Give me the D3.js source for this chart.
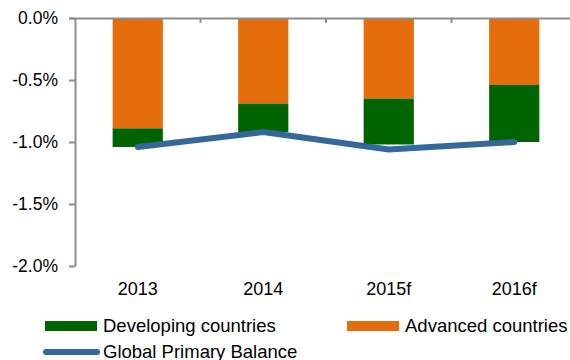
<!DOCTYPE html>
<html>
<head>
<meta charset="utf-8">
<script src="https://cdn.jsdelivr.net/npm/d3@7/dist/d3.min.js"></script>
<style>
  html, body { margin: 0; padding: 0; background: #fff; }
  svg { display: block; font-family: "Liberation Sans", Arial, sans-serif; }
</style>
</head>
<body>
<svg id="chart" width="570" height="360"></svg>
<script>
// Primary balance contributions, % of GDP
const years = ["2013", "2014", "2015f", "2016f"];
const advanced = [-0.89, -0.69, -0.65, -0.54];
const developing = [-0.15, -0.23, -0.37, -0.46];
const globalBalance = [-1.04, -0.92, -1.06, -1.00];
const yTicks = [0, -0.5, -1.0, -1.5, -2.0];

const colors = { developing: "#006400", advanced: "#e46c0a", global: "#34679a", axis: "#8c8c8c" };

const svg = d3.select("#chart");

const x = d3.scaleBand().domain(years).range([75, 577]).padding(0);
const y = d3.scaleLinear().domain([-2, 0]).range([266, 18]);
const barW = x.bandwidth() * 0.4;
const cx = d => x(d) + x.bandwidth() / 2;

const rows = years.map((yr, i) => ({
  year: yr,
  adv: advanced[i],
  dev: developing[i],
  glob: globalBalance[i]
}));

// Stacked bars: advanced from zero, developing stacked underneath
const bars = svg.append("g");
bars.selectAll("rect.adv").data(rows).join("rect")
  .attr("class", "adv")
  .attr("x", d => cx(d.year) - barW / 2)
  .attr("width", barW)
  .attr("y", y(0))
  .attr("height", d => y(d.adv) - y(0))
  .attr("fill", colors.advanced);

bars.selectAll("rect.dev").data(rows).join("rect")
  .attr("class", "dev")
  .attr("x", d => cx(d.year) - barW / 2)
  .attr("width", barW)
  .attr("y", d => y(d.adv))
  .attr("height", d => y(d.adv + d.dev) - y(d.adv))
  .attr("fill", colors.developing);

// Y axis
const yAxis = svg.append("g")
  .attr("transform", "translate(75,0)")
  .call(d3.axisLeft(y).tickValues(yTicks).tickSize(6).tickSizeOuter(0)
    .tickFormat(v => v.toFixed(1) + "%"));
yAxis.select(".domain").attr("stroke", colors.axis).attr("stroke-width", 2);
yAxis.selectAll(".tick line").attr("stroke", colors.axis).attr("stroke-width", 2);
yAxis.selectAll(".tick text")
  .attr("x", -17)
  .attr("fill", "#000")
  .style("font-size", "17.5px")
  .style("font-family", "'Liberation Sans', Arial, sans-serif");

// Category axis sits at zero (top); labels are below the plot
const xAxis = svg.append("g")
  .attr("transform", `translate(0,${y(0)})`)
  .call(d3.axisBottom(x).tickValues([]).tickSizeOuter(0));
xAxis.select(".domain").attr("stroke", colors.axis).attr("stroke-width", 2)
  .attr("d", `M69,0.5H577`);
xAxis.selectAll(".sep").data(years.slice(1)).join("line")
  .attr("class", "sep")
  .attr("x1", d => x(d)).attr("x2", d => x(d))
  .attr("y1", 0).attr("y2", 5)
  .attr("stroke", colors.axis).attr("stroke-width", 2);

svg.append("g").selectAll("text").data(years).join("text")
  .attr("x", d => cx(d))
  .attr("y", 295)
  .attr("text-anchor", "middle")
  .style("font-size", "18px")
  .text(d => d);

// Global primary balance line
const line = d3.line().x(d => cx(d.year)).y(d => y(d.glob));
svg.append("path")
  .datum(rows)
  .attr("d", line)
  .attr("fill", "none")
  .attr("stroke", colors.global)
  .attr("stroke-width", 6)
  .attr("stroke-linecap", "round")
  .attr("stroke-linejoin", "round");

// Legend
const legend = svg.append("g").style("font-size", "18.5px");
const legendItems = [
  { label: "Developing countries", color: colors.developing, type: "rect", x: 45, y: 326 },
  { label: "Advanced countries", color: colors.advanced, type: "rect", x: 347, y: 326 },
  { label: "Global Primary Balance", color: colors.global, type: "line", x: 45, y: 352 }
];
legendItems.forEach(it => {
  if (it.type === "rect") {
    legend.append("rect").attr("x", it.x).attr("y", it.y - 5).attr("width", 52).attr("height", 10)
      .attr("fill", it.color);
  } else {
    legend.append("line").attr("x1", it.x + 1).attr("x2", it.x + 52).attr("y1", it.y).attr("y2", it.y)
      .attr("stroke", it.color).attr("stroke-width", 6).attr("stroke-linecap", "round");
  }
  legend.append("text").attr("x", it.x + 58).attr("y", it.y).attr("dy", "0.35em").text(it.label);
});
</script>
</body>
</html>
